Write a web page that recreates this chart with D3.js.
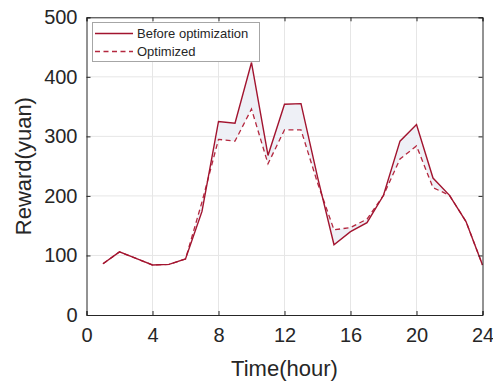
<!DOCTYPE html>
<html><head><meta charset="utf-8">
<script src="https://cdn.jsdelivr.net/npm/d3@7"></script>
<style>body{margin:0;background:#fff;} svg{display:block;font-family:"Liberation Sans",Arial,sans-serif;}</style>
</head><body>
<svg id="c" width="493" height="383"></svg>
<script>
const hours = [1,2,3,4,5,6,7,8,9,10,11,12,13,14,15,16,17,18,19,20,21,22,23,24];
const before = [86,106,95,84,85,94,174,325,322,424,268,354,355,232,118,140,155,201,292,320,230,201,157,84];
const optimized = [86,106,95,84,85,94,190,295,292,346,254,311,311,222,143,147,161,201,262,284,214,201,157,84];
const xTicks = [0,4,8,12,16,20,24];
const yTicks = [0,100,200,300,400,500];
const seriesNames = ["Before optimization","Optimized"];

const svg = d3.select("#c");
const L=86.5,R=482.5,T=17.3,B=315;
const x = d3.scaleLinear().domain([0,24]).range([L,R]);
const y = d3.scaleLinear().domain([0,500]).range([B,T]);
const lineCol="#a2142f", axisCol="#262626";

// grid
svg.append("g").selectAll("line").data(xTicks.slice(1,-1)).join("line")
  .attr("x1",d=>x(d)).attr("x2",d=>x(d)).attr("y1",T).attr("y2",B)
  .attr("stroke","#e6e6e6").attr("stroke-width",1);
svg.append("g").selectAll("line").data(yTicks.slice(1,-1)).join("line")
  .attr("y1",d=>y(d)).attr("y2",d=>y(d)).attr("x1",L).attr("x2",R)
  .attr("stroke","#e6e6e6").attr("stroke-width",1);

// fill between
const data = hours.map((h,i)=>({h,b:before[i],o:optimized[i]}));
svg.append("path").datum(data)
  .attr("d",d3.area().x(d=>x(d.h)).y0(d=>y(d.o)).y1(d=>y(d.b)))
  .attr("fill","#eef0f6").attr("stroke","none");

svg.append("path").datum(data)
  .attr("d",d3.line().x(d=>x(d.h)).y(d=>y(d.o)))
  .attr("fill","none").attr("stroke","#b4283f").attr("stroke-width",1.3).attr("stroke-dasharray","5,3.5");
svg.append("path").datum(data)
  .attr("d",d3.line().x(d=>x(d.h)).y(d=>y(d.b)))
  .attr("fill","none").attr("stroke",lineCol).attr("stroke-width",1.4);

// axes
const ax = d3.axisBottom(x).tickValues(xTicks).tickSize(-4).tickPadding(13);
const gx = svg.append("g").attr("transform",`translate(0,${B})`).call(ax);
const ay = d3.axisLeft(y).tickValues(yTicks).tickSize(-4).tickPadding(9);
const gy = svg.append("g").attr("transform",`translate(${L},0)`).call(ay);
const gxt = svg.append("g").attr("transform",`translate(0,${T})`).call(d3.axisTop(x).tickValues(xTicks).tickSize(-4).tickFormat(""));
const gyr = svg.append("g").attr("transform",`translate(${R},0)`).call(d3.axisRight(y).tickValues(yTicks).tickSize(-4).tickFormat(""));
[gx,gy,gxt,gyr].forEach(g=>{
  g.select(".domain").attr("stroke",axisCol).attr("stroke-width",1);
  g.selectAll(".tick line").attr("stroke",axisCol);
  g.selectAll("text").attr("fill","#262626").style("font-size","20px").style("font-family","'Liberation Sans',Arial,sans-serif");
});
gx.selectAll("text").attr("dy","0.71em");

svg.append("text").attr("x",(L+R)/2).attr("y",376).attr("text-anchor","middle")
  .attr("fill","#262626").style("font-size","22px").text("Time(hour)");
svg.append("text").attr("transform",`translate(31,${(T+B)/2}) rotate(-90)`).attr("text-anchor","middle")
  .attr("fill","#262626").style("font-size","22px").text("Reward(yuan)");

// legend
const lg = svg.append("g");
lg.append("rect").attr("x",92.5).attr("y",22.5).attr("width",167).attr("height",39)
  .attr("fill","#fff").attr("stroke","#a6a6a6").attr("stroke-width",1);
const rows=[33.5,51.5];
lg.append("line").attr("x1",95).attr("x2",133).attr("y1",rows[0]).attr("y2",rows[0]).attr("stroke",lineCol).attr("stroke-width",1.6);
lg.append("line").attr("x1",95).attr("x2",133).attr("y1",rows[1]).attr("y2",rows[1]).attr("stroke","#b4283f").attr("stroke-width",1.3).attr("stroke-dasharray","5,3.5");
seriesNames.forEach((n,i)=>lg.append("text").attr("x",137).attr("y",rows[i]).attr("dy","0.35em")
  .attr("fill","#262626").style("font-size","13px").text(n));
</script>
</body></html>
